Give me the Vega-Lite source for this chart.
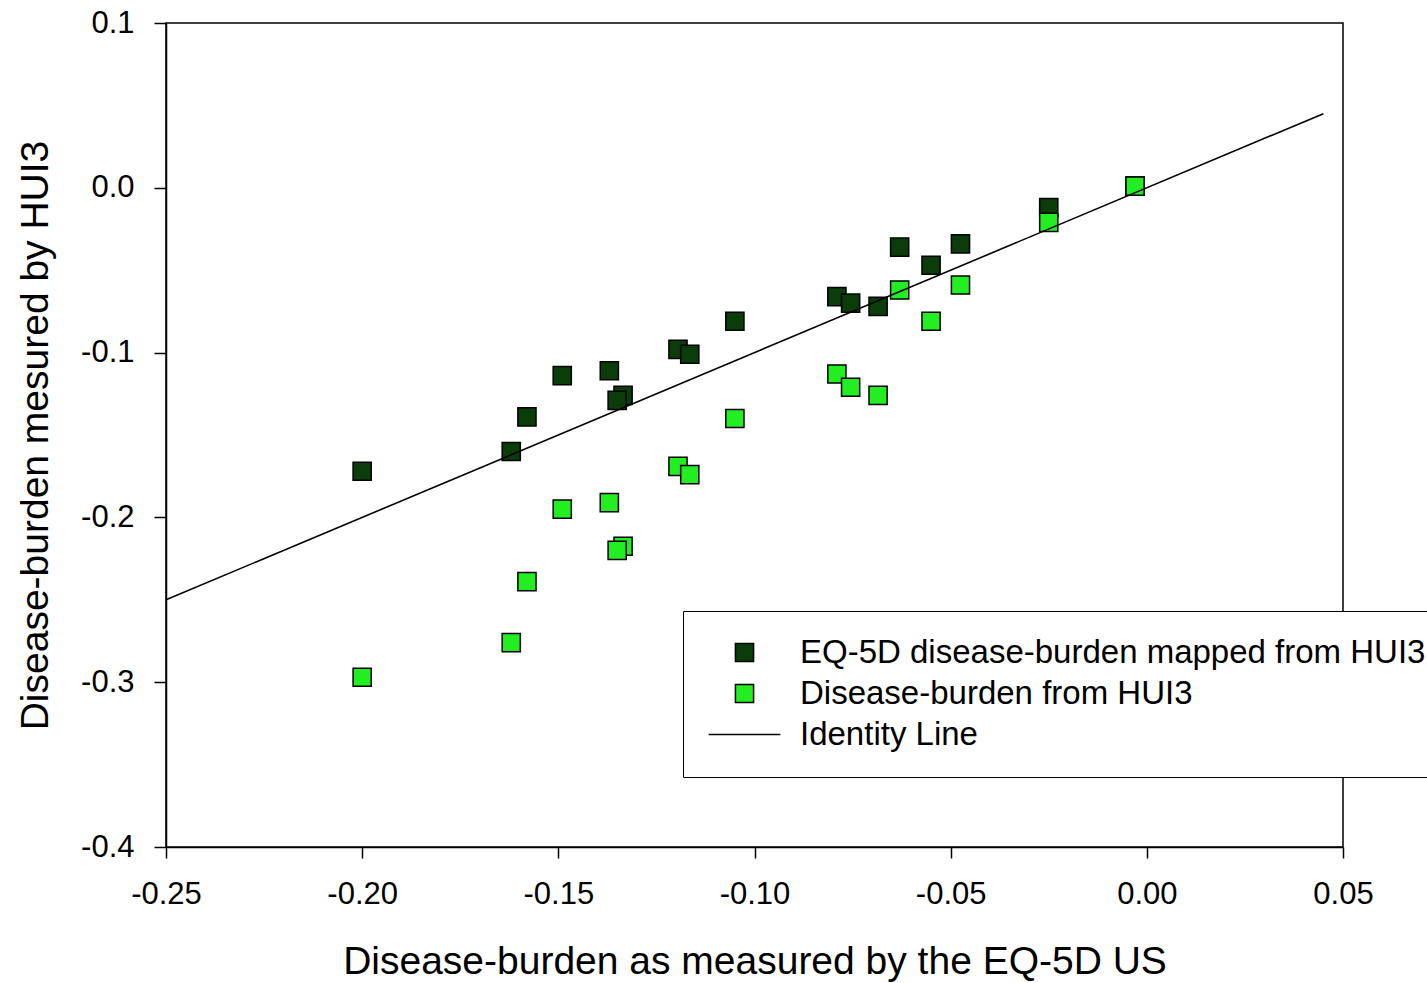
{
  "$schema": "https://vega.github.io/schema/vega-lite/v6.json",
  "width": 1177,
  "height": 824,
  "autosize": {"type": "none"},
  "padding": {"left": 166, "top": 23, "right": 84, "bottom": 136},
  "background": "white",
  "config": {
    "view": {"stroke": "black", "strokeWidth": 1.5},
    "font": "Liberation Sans",
    "axis": {
      "grid": false,
      "domainColor": "black",
      "domainWidth": 1.5,
      "tickColor": "black",
      "tickWidth": 1.5,
      "labelColor": "black",
      "labelFont": "Liberation Sans",
      "labelFontSize": 31,
      "titleFont": "Liberation Sans",
      "titleFontSize": 39,
      "titleFontWeight": "normal",
      "titleColor": "black",
      "labelFlush": false,
      "labelOverlap": false
    }
  },
  "datasets": {
    "pts": [
      {"x": -0.200, "y": -0.172, "series": "EQ-5D disease-burden mapped from HUI3"},
      {"x": -0.162, "y": -0.160, "series": "EQ-5D disease-burden mapped from HUI3"},
      {"x": -0.158, "y": -0.139, "series": "EQ-5D disease-burden mapped from HUI3"},
      {"x": -0.149, "y": -0.114, "series": "EQ-5D disease-burden mapped from HUI3"},
      {"x": -0.137, "y": -0.111, "series": "EQ-5D disease-burden mapped from HUI3"},
      {"x": -0.1335, "y": -0.126, "series": "EQ-5D disease-burden mapped from HUI3"},
      {"x": -0.135, "y": -0.129, "series": "EQ-5D disease-burden mapped from HUI3"},
      {"x": -0.1195, "y": -0.098, "series": "EQ-5D disease-burden mapped from HUI3"},
      {"x": -0.1165, "y": -0.101, "series": "EQ-5D disease-burden mapped from HUI3"},
      {"x": -0.105, "y": -0.081, "series": "EQ-5D disease-burden mapped from HUI3"},
      {"x": -0.079, "y": -0.066, "series": "EQ-5D disease-burden mapped from HUI3"},
      {"x": -0.0755, "y": -0.070, "series": "EQ-5D disease-burden mapped from HUI3"},
      {"x": -0.0685, "y": -0.072, "series": "EQ-5D disease-burden mapped from HUI3"},
      {"x": -0.063, "y": -0.036, "series": "EQ-5D disease-burden mapped from HUI3"},
      {"x": -0.055, "y": -0.047, "series": "EQ-5D disease-burden mapped from HUI3"},
      {"x": -0.0475, "y": -0.034, "series": "EQ-5D disease-burden mapped from HUI3"},
      {"x": -0.025, "y": -0.012, "series": "EQ-5D disease-burden mapped from HUI3"},
      {"x": -0.003, "y": 0.001, "series": "EQ-5D disease-burden mapped from HUI3"},
      {"x": -0.200, "y": -0.297, "series": "Disease-burden from HUI3"},
      {"x": -0.162, "y": -0.276, "series": "Disease-burden from HUI3"},
      {"x": -0.158, "y": -0.239, "series": "Disease-burden from HUI3"},
      {"x": -0.149, "y": -0.195, "series": "Disease-burden from HUI3"},
      {"x": -0.137, "y": -0.191, "series": "Disease-burden from HUI3"},
      {"x": -0.1335, "y": -0.2175, "series": "Disease-burden from HUI3"},
      {"x": -0.135, "y": -0.220, "series": "Disease-burden from HUI3"},
      {"x": -0.1195, "y": -0.169, "series": "Disease-burden from HUI3"},
      {"x": -0.1165, "y": -0.174, "series": "Disease-burden from HUI3"},
      {"x": -0.105, "y": -0.140, "series": "Disease-burden from HUI3"},
      {"x": -0.079, "y": -0.113, "series": "Disease-burden from HUI3"},
      {"x": -0.0755, "y": -0.121, "series": "Disease-burden from HUI3"},
      {"x": -0.0685, "y": -0.126, "series": "Disease-burden from HUI3"},
      {"x": -0.063, "y": -0.062, "series": "Disease-burden from HUI3"},
      {"x": -0.055, "y": -0.081, "series": "Disease-burden from HUI3"},
      {"x": -0.0475, "y": -0.059, "series": "Disease-burden from HUI3"},
      {"x": -0.025, "y": -0.021, "series": "Disease-burden from HUI3"},
      {"x": -0.003, "y": 0.001, "series": "Disease-burden from HUI3"}
    ],
    "identity": [
      {"x": -0.25, "y": -0.25},
      {"x": 0.045, "y": 0.045}
    ]
  },
  "layer": [
    {
      "data": {"name": "pts"},
      "mark": {"type": "point", "filled": true, "stroke": "black", "strokeWidth": 1.5, "size": 330, "opacity": 1},
      "encoding": {
        "x": {
          "field": "x", "type": "quantitative",
          "scale": {"domain": [-0.25, 0.05], "nice": false, "zero": false},
          "axis": {
            "title": "Disease-burden as measured by the EQ-5D US",
            "values": [-0.25, -0.2, -0.15, -0.1, -0.05, 0, 0.05],
            "labelExpr": "replace(format(datum.value, '.2f'), '\u2212', '-')",
            "tickSize": 11,
            "labelPadding": 21,
            "titlePadding": 33
          }
        },
        "y": {
          "field": "y", "type": "quantitative",
          "scale": {"domain": [-0.4, 0.1], "nice": false, "zero": false},
          "axis": {
            "title": "Disease-burden mesured by HUI3",
            "values": [0.1, 0, -0.1, -0.2, -0.3, -0.4],
            "labelExpr": "replace(format(datum.value, '.1f'), '\u2212', '-')",
            "tickSize": 12,
            "labelPadding": 20,
            "titlePadding": 25
          }
        },
        "color": {
          "field": "series", "type": "nominal",
          "scale": {
            "domain": ["EQ-5D disease-burden mapped from HUI3", "Disease-burden from HUI3", "Identity Line"],
            "range": ["#0b3d0b", "#22ee22", "black"]
          },
          "legend": {
            "title": null,
            "orient": "none",
            "legendX": 517,
            "legendY": 588,
            "padding": 25,
            "strokeColor": "black",
            "fillColor": "white",
            "labelFont": "Liberation Sans",
            "labelFontSize": 33,
            "labelColor": "black",
            "labelLimit": 2000,
            "symbolSize": 330,
            "symbolStrokeColor": "black",
            "symbolStrokeWidth": 1.5,
            "symbolOffset": 20,
            "labelOffset": 39,
            "rowPadding": 7,
            "encode": {"legend": {"update": {"strokeWidth": {"value": 1.5}}}}
          }
        },
        "shape": {
          "field": "series", "type": "nominal",
          "scale": {
            "domain": ["EQ-5D disease-burden mapped from HUI3", "Disease-burden from HUI3", "Identity Line"],
            "range": ["square", "square", "M-3.95,0L3.95,0"]
          }
        }
      }
    },
    {
      "data": {"name": "identity"},
      "mark": {"type": "line", "color": "black", "strokeWidth": 1.6},
      "encoding": {
        "x": {"field": "x", "type": "quantitative"},
        "y": {"field": "y", "type": "quantitative"}
      }
    }
  ]
}
